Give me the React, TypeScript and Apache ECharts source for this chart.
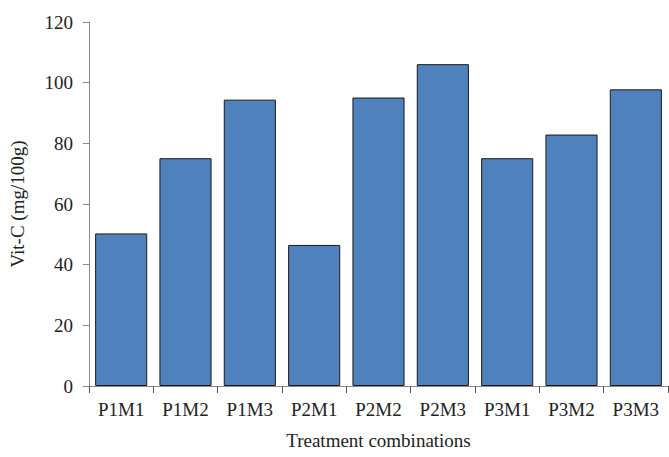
import React, { useEffect, useRef } from "react";
import * as echarts from "echarts";

const categories = ["P1M1", "P1M2", "P1M3", "P2M1", "P2M2", "P2M3", "P3M1", "P3M2", "P3M3"];
const vitC = [50.3, 75.1, 94.4, 46.5, 95.1, 106.1, 75.1, 82.9, 97.8];
const yTicks = { min: 0, max: 120, interval: 20 };

export default function App() {
  const ref = useRef<HTMLDivElement>(null);
  useEffect(() => {
    if (!ref.current) return;
    const chart = echarts.init(ref.current, undefined, { renderer: "svg" });
    const font = "'Liberation Serif', 'Times New Roman', serif";
    chart.setOption({
      animation: false,
      backgroundColor: "#ffffff",
      grid: { left: 89, right: 1, top: 22, bottom: 71, containLabel: false },
      xAxis: {
        type: "category",
        data: categories,
        name: "Treatment combinations",
        nameLocation: "middle",
        nameGap: 45,
        nameTextStyle: { fontFamily: font, fontSize: 19, color: "#222" },
        axisLine: { lineStyle: { color: "#8a8a8a", width: 1 } },
        axisTick: { show: true, length: 7, lineStyle: { color: "#555" } },
        axisLabel: { fontFamily: font, fontSize: 19, color: "#222", margin: 14 },
        splitLine: { show: false },
      },
      yAxis: {
        type: "value",
        min: yTicks.min,
        max: yTicks.max,
        interval: yTicks.interval,
        name: "Vit-C (mg/100g)",
        nameLocation: "middle",
        nameGap: 62,
        nameTextStyle: { fontFamily: font, fontSize: 19, color: "#222" },
        axisLine: { show: true, lineStyle: { color: "#8a8a8a", width: 1 } },
        axisTick: { show: true, length: 6, lineStyle: { color: "#8a8a8a" } },
        axisLabel: { fontFamily: font, fontSize: 19, color: "#222", margin: 16 },
        splitLine: { show: false },
      },
      series: [
        {
          type: "bar",
          data: vitC,
          barCategoryGap: "19%",
          itemStyle: { color: "#4F81BD", borderColor: "#1a1a1a", borderWidth: 1 },
        },
      ],
    });
    return () => chart.dispose();
  }, []);
  return <div ref={ref} style={{ width: 669, height: 457, position: "absolute", left: 0, top: 0 }} />;
}
